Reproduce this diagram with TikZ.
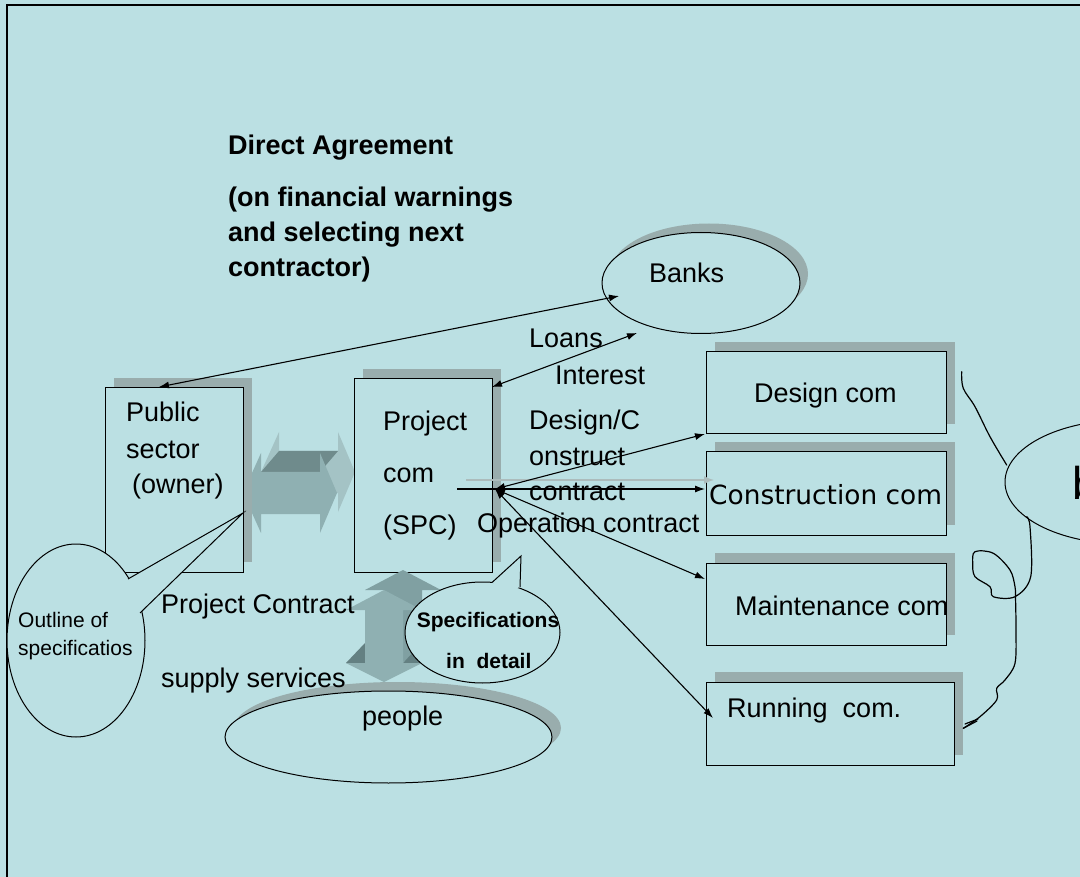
\documentclass[tikz,border=0pt]{standalone}
\usepackage{fontspec}
\setmainfont{Liberation Sans}
\newfontfamily\dejavu{DejaVu Sans}
\usetikzlibrary{arrows.meta,shapes.geometric,shadows}
\definecolor{bg}{RGB}{187,224,227}
\definecolor{shd}{RGB}{153,173,173}
\definecolor{arrfront}{RGB}{143,176,178}
\definecolor{arrback}{RGB}{164,195,197}
\definecolor{arrdark}{RGB}{111,139,140}
\definecolor{varrback}{RGB}{128,160,162}
\definecolor{varrdark}{RGB}{100,128,130}
\definecolor{ghost}{RGB}{172,188,188}
\begin{document}
\begin{tikzpicture}[x=1pt,y=-1pt,
  boxshape/.style={draw=black,line width=1pt,fill=bg,inner sep=0pt},
  shbox/.style={boxshape,drop shadow={shadow xshift=9pt,shadow yshift=10pt,fill=shd,opacity=1}},
  ovalshape/.style={ellipse,draw=black,line width=1pt,fill=bg,inner sep=0pt},
  txt/.style={inner sep=0pt,anchor=base west,font=\fontsize{27}{36}\selectfont},
  btxt/.style={inner sep=0pt,anchor=base west,font=\fontsize{27}{35}\selectfont\bfseries},
  stxt/.style={inner sep=0pt,anchor=base west,font=\fontsize{21}{28}\selectfont},
  conn/.style={line width=1.1pt,-{Latex[length=10pt,width=7pt]}},
  dconn/.style={line width=1.1pt,{Latex[length=10pt,width=7pt]}-{Latex[length=10pt,width=7pt]}}
]
% background and frame
\fill[bg] (0,0) rectangle (1080,877);
\useasboundingbox (0,0) rectangle (1080,877);
\draw[line width=1.5pt] (7,877) -- (7,5) -- (1080,5);

% ---- fat horizontal double arrow (3D) ----
\fill[arrback, shift={(18,-21)}] (243,493) -- (261,453) -- (261,472) -- (320,472) -- (320,453) -- (337,493) -- (320,533) -- (320,514) -- (261,514) -- (261,533) -- cycle;
\fill[arrdark] (261,472) -- (320,472) -- (338,451) -- (279,451) -- cycle;
\fill[arrfront] (243,493) -- (261,453) -- (261,472) -- (320,472) -- (320,453) -- (337,493) -- (320,533) -- (320,514) -- (261,514) -- (261,533) -- cycle;

% ---- boxes ----
\node[shbox,minimum width=138pt,minimum height=184pt] (pub) at (174,480) {};
\node[shbox,minimum width=138pt,minimum height=193pt] (spc) at (423,475.5) {};
\node[shbox,minimum width=240pt,minimum height=82pt] (des) at (826,393) {};
\node[shbox,minimum width=240pt,minimum height=83pt] (con) at (826,493.5) {};
\node[shbox,minimum width=240pt,minimum height=82pt] (mai) at (826,604) {};
\node[shbox,minimum width=248pt,minimum height=83pt] (run) at (830,723.5) {};

% ---- ellipses ----
\node[ovalshape,minimum width=198pt,minimum height=101pt,
  drop shadow={shadow xshift=8pt,shadow yshift=9pt,fill=shd,opacity=1}] (banks) at (701,283) {};
\node[ovalshape,minimum width=327pt,minimum height=92pt,
  drop shadow={shadow xshift=9pt,shadow yshift=9pt,fill=shd,opacity=1}] (people) at (388.5,737) {};
\node[ovalshape,minimum width=240pt,minimum height=124pt] (bund) at (1125,482) {};

% ---- fat vertical double arrow (3D) ----
\fill[varrback, shift={(19,-20)}] (384,590) -- (422,610) -- (403,610) -- (403,663) -- (422,663) -- (384,682) -- (346,663) -- (365,663) -- (365,610) -- (346,610) -- cycle;
\fill[varrdark] (346,663) -- (365,663) -- (384,643) -- (365,643) -- cycle;
\fill[varrdark] (403,663) -- (422,663) -- (441,643) -- (422,643) -- cycle;
\fill[arrfront] (384,590) -- (422,610) -- (403,610) -- (403,663) -- (422,663) -- (384,682) -- (346,663) -- (365,663) -- (365,610) -- (346,610) -- cycle;

% ---- connectors ----
\coordinate (daP) at (159,387);
\coordinate (daB) at (619,296);
\coordinate (liP) at (492,387);
\coordinate (liB) at (637,333);
\coordinate (hub) at (495,489);
\coordinate (hs) at (457,489);
\coordinate (he) at (705,489);
\coordinate (de) at (705,434);
\coordinate (me) at (705,579);
\coordinate (re) at (713,718);
\coordinate (gs) at (466,480);
\coordinate (ge) at (714,480);
\draw[line width=1.5pt,ghost,-{Latex[length=10pt,width=8pt]}] (gs) -- (ge);
\draw[dconn] (daP) -- (daB);
\draw[dconn] (liP) -- (liB);
\draw[conn] (hs) -- (he);
\draw[dconn] (hub) -- (de);
\draw[dconn] (hub) -- (me);
\draw[dconn] (hub) -- (re);

% ---- callouts ----
\node[ovalshape,minimum width=138pt,minimum height=193pt] (outl) at (76,640.5) {};
\coordinate (otip) at (243,513);
\coordinate (ob1) at (128,579);
\coordinate (ob2) at (140,613);
\fill[bg] (ob1) -- (otip) -- (ob2) -- (118,600) -- cycle;
\draw[line width=1pt] (ob1) -- (otip) -- (ob2);

\node[ovalshape,minimum width=155pt,minimum height=101pt] (spec) at (482.5,632.5) {};
\coordinate (stip) at (521,556);
\coordinate (sb1) at (492,582.5);
\coordinate (sb2) at (520,587);
\fill[bg] (sb1) -- (stip) -- (sb2) -- (505,592) -- cycle;
\draw[line width=1pt] (sb1) -- (stip) -- (sb2);

% ---- hand drawn curve ----
\draw[line width=1.2pt,line cap=round,line join=round] plot[smooth,tension=0.6] coordinates {(961.7,371.7) (963.3,388.3) (975,406.7) (990,436.7) (1006.7,465)};
\draw[line width=1.2pt,line cap=round,line join=round] plot[smooth,tension=0.55] coordinates {(1026.7,516.7) (1030,526.7) (1030.7,576.7) (1015,596.7) (993.3,596.7) (990,586.7) (975,576.7) (972.7,563.3) (975,551.7) (993.3,553.3) (1010,570) (1015,586.7) (1015.5,596.7) (1016,630) (1015,663.3) (1005,680) (996.7,688.3) (996.7,700) (980,716.7) (963.3,728.3)};
\draw[line width=1.2pt,line cap=round] (963.3,728.3) -- (977,721);
\draw[line width=1.2pt,line cap=round] (965,724) -- (978,719);

% ---- texts ----
\node[btxt] (da1) at (228,155) {Direct Agreement};
\node[btxt] (da2) at (228,207) {\begin{tabular}[t]{@{}l@{}}(on financial warnings\\and selecting next\\contractor)\end{tabular}};
\node[txt] (pubt) at (126,422) {\begin{tabular}[t]{@{}l@{}}Public\\sector\\\hspace*{6pt}(owner)\end{tabular}};
\node[txt,font=\fontsize{27}{52}\selectfont] (spct) at (383,431) {\begin{tabular}[t]{@{}l@{}}Project\\com\\(SPC)\end{tabular}};
\node[txt] (bankst) at (649,283) {Banks};
\node[txt] (loans) at (529,348) {Loans};
\node[txt] (inter) at (555,385) {Interest};
\node[txt,font=\fontsize{27}{35.5}\selectfont] (dcc) at (529,430) {\begin{tabular}[t]{@{}l@{}}Design/C\\onstruct\\contract\end{tabular}};
\node[txt] (opc) at (477,532) {Operation contract};
\node[txt] (dest) at (754,403) {Design com};
\node[txt,font=\fontsize{26.4}{30}\dejavu] (cont) at (709,504) {Construction com};
\node[txt] (mait) at (735,615) {Maintenance com};
\node[txt] (runt) at (727,717) {Running\ \ com.};
\node[txt] (pc) at (161,613) {Project Contract};
\node[txt] (ss) at (161,687) {supply services};
\node[txt] (peot) at (362,725) {people};
\node[inner sep=0pt,anchor=base,font=\fontsize{21}{28}\selectfont\bfseries] (spec1) at (488,627) {Specifications};
\node[inner sep=0pt,anchor=base west,font=\fontsize{21}{28}\selectfont\bfseries] (spec2) at (446,668) {in\ \ detail};
\node[stxt] (out1) at (18,627) {Outline of};
\node[stxt] (out2) at (18,655) {specificatios};
\node[inner sep=0pt,anchor=base west,font=\fontsize{46}{50}\selectfont] (bt) at (1072,500) {b};
\end{tikzpicture}
\end{document}
